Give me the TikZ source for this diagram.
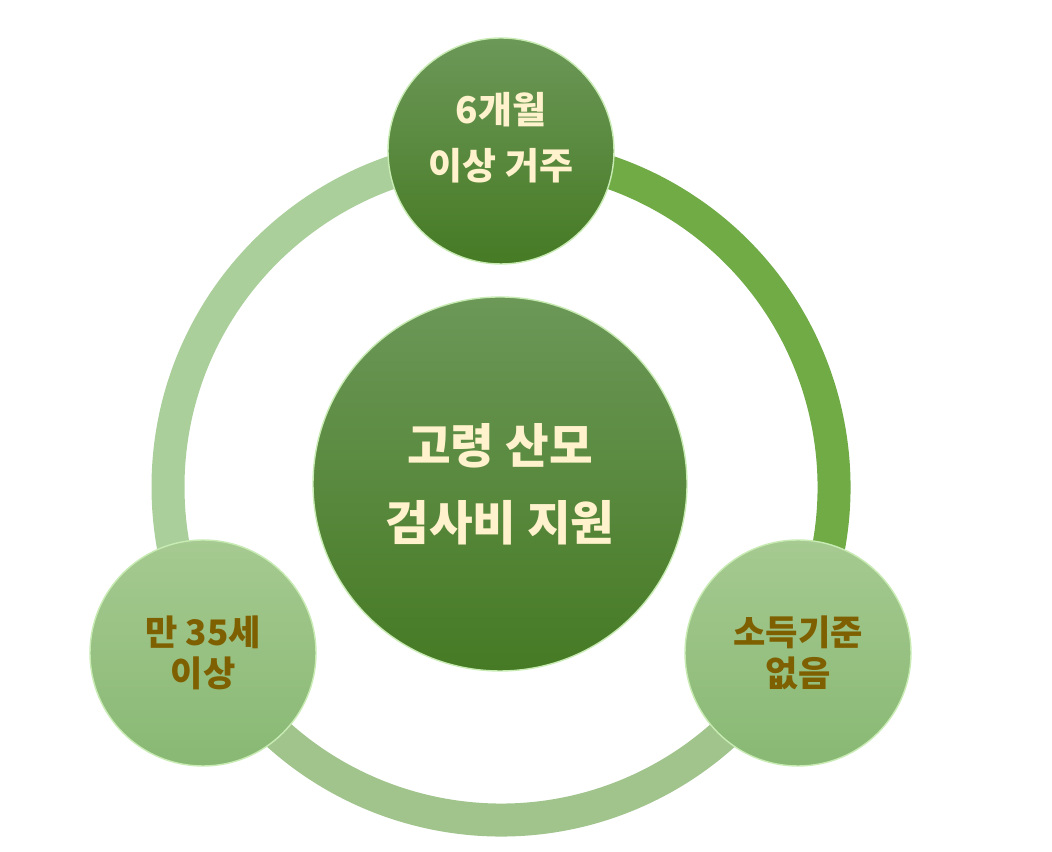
\documentclass[tikz,border=0pt]{standalone}
\usepackage{fontspec}
\usepackage{tikz}
\usetikzlibrary{positioning, shapes}
\newfontfamily\krfont{Noto Sans CJK KR}
\definecolor{DarkTop}{RGB}{108, 152, 88}
\definecolor{DarkBottom}{RGB}{70, 122, 36}
\definecolor{LightTop}{RGB}{166, 202, 145}
\definecolor{LightBottom}{RGB}{136, 184, 115}
\definecolor{RimGreen}{RGB}{200, 235, 180}
\definecolor{CreamText}{RGB}{255, 242, 204}
\definecolor{BrownText}{RGB}{127, 96, 0}
\definecolor{RingLeft}{RGB}{170, 207, 154}
\definecolor{RingBottom}{RGB}{160, 196, 140}
\definecolor{RingRight}{RGB}{112, 171, 70}

\begin{document}
\begin{tikzpicture}[
    ring/.style={line width=0.66cm},
    bigball/.style={circle, inner sep=0pt, minimum size=7.48cm, top color=DarkTop, bottom color=DarkBottom, draw=RimGreen, line width=0.8pt, text=CreamText, align=center, font=\krfont\bfseries\fontsize{27}{44}\selectfont},
    darkball/.style={circle, inner sep=0pt, minimum size=4.52cm, top color=DarkTop, bottom color=DarkBottom, draw=RimGreen, line width=0.8pt, text=CreamText, align=center, font=\krfont\bfseries\fontsize{21}{32}\selectfont},
    lightball/.style={circle, inner sep=0pt, minimum size=4.52cm, top color=LightTop, bottom color=LightBottom, draw=RimGreen, line width=0.8pt, text=BrownText, align=center, font=\krfont\bfseries\fontsize{20}{23}\selectfont}
  ]
    \useasboundingbox (0,0) rectangle (21.04,17.04);
    \coordinate (hub) at (10.02,7.30);
    % ring pieces
    \draw[ring, RingLeft] ([shift={(90:6.66)}]hub) arc (90:209:6.66);
    \draw[ring, RingBottom] ([shift={(209:6.66)}]hub) arc (209:331:6.66);
    \draw[ring, RingRight] ([shift={(-29:6.66)}]hub) arc (-29:90:6.66);
    \node[bigball] (main) at (10.00,7.36) {고령 산모\\검사비 지원};
    \node[darkball] (stay) at (10.02,14.02) {};
    \node[text=CreamText, align=center, font=\krfont\bfseries\fontsize{21}{32}\selectfont] (staytext) at ([yshift=0.26cm]stay.center) {6개월\\이상 거주};
    \node[lightball] (age) at (4.06,3.98) {만 35세\\이상};
    \node[lightball] (income) at (15.96,3.98) {소득기준\\없음};
  \end{tikzpicture}
\end{document}
